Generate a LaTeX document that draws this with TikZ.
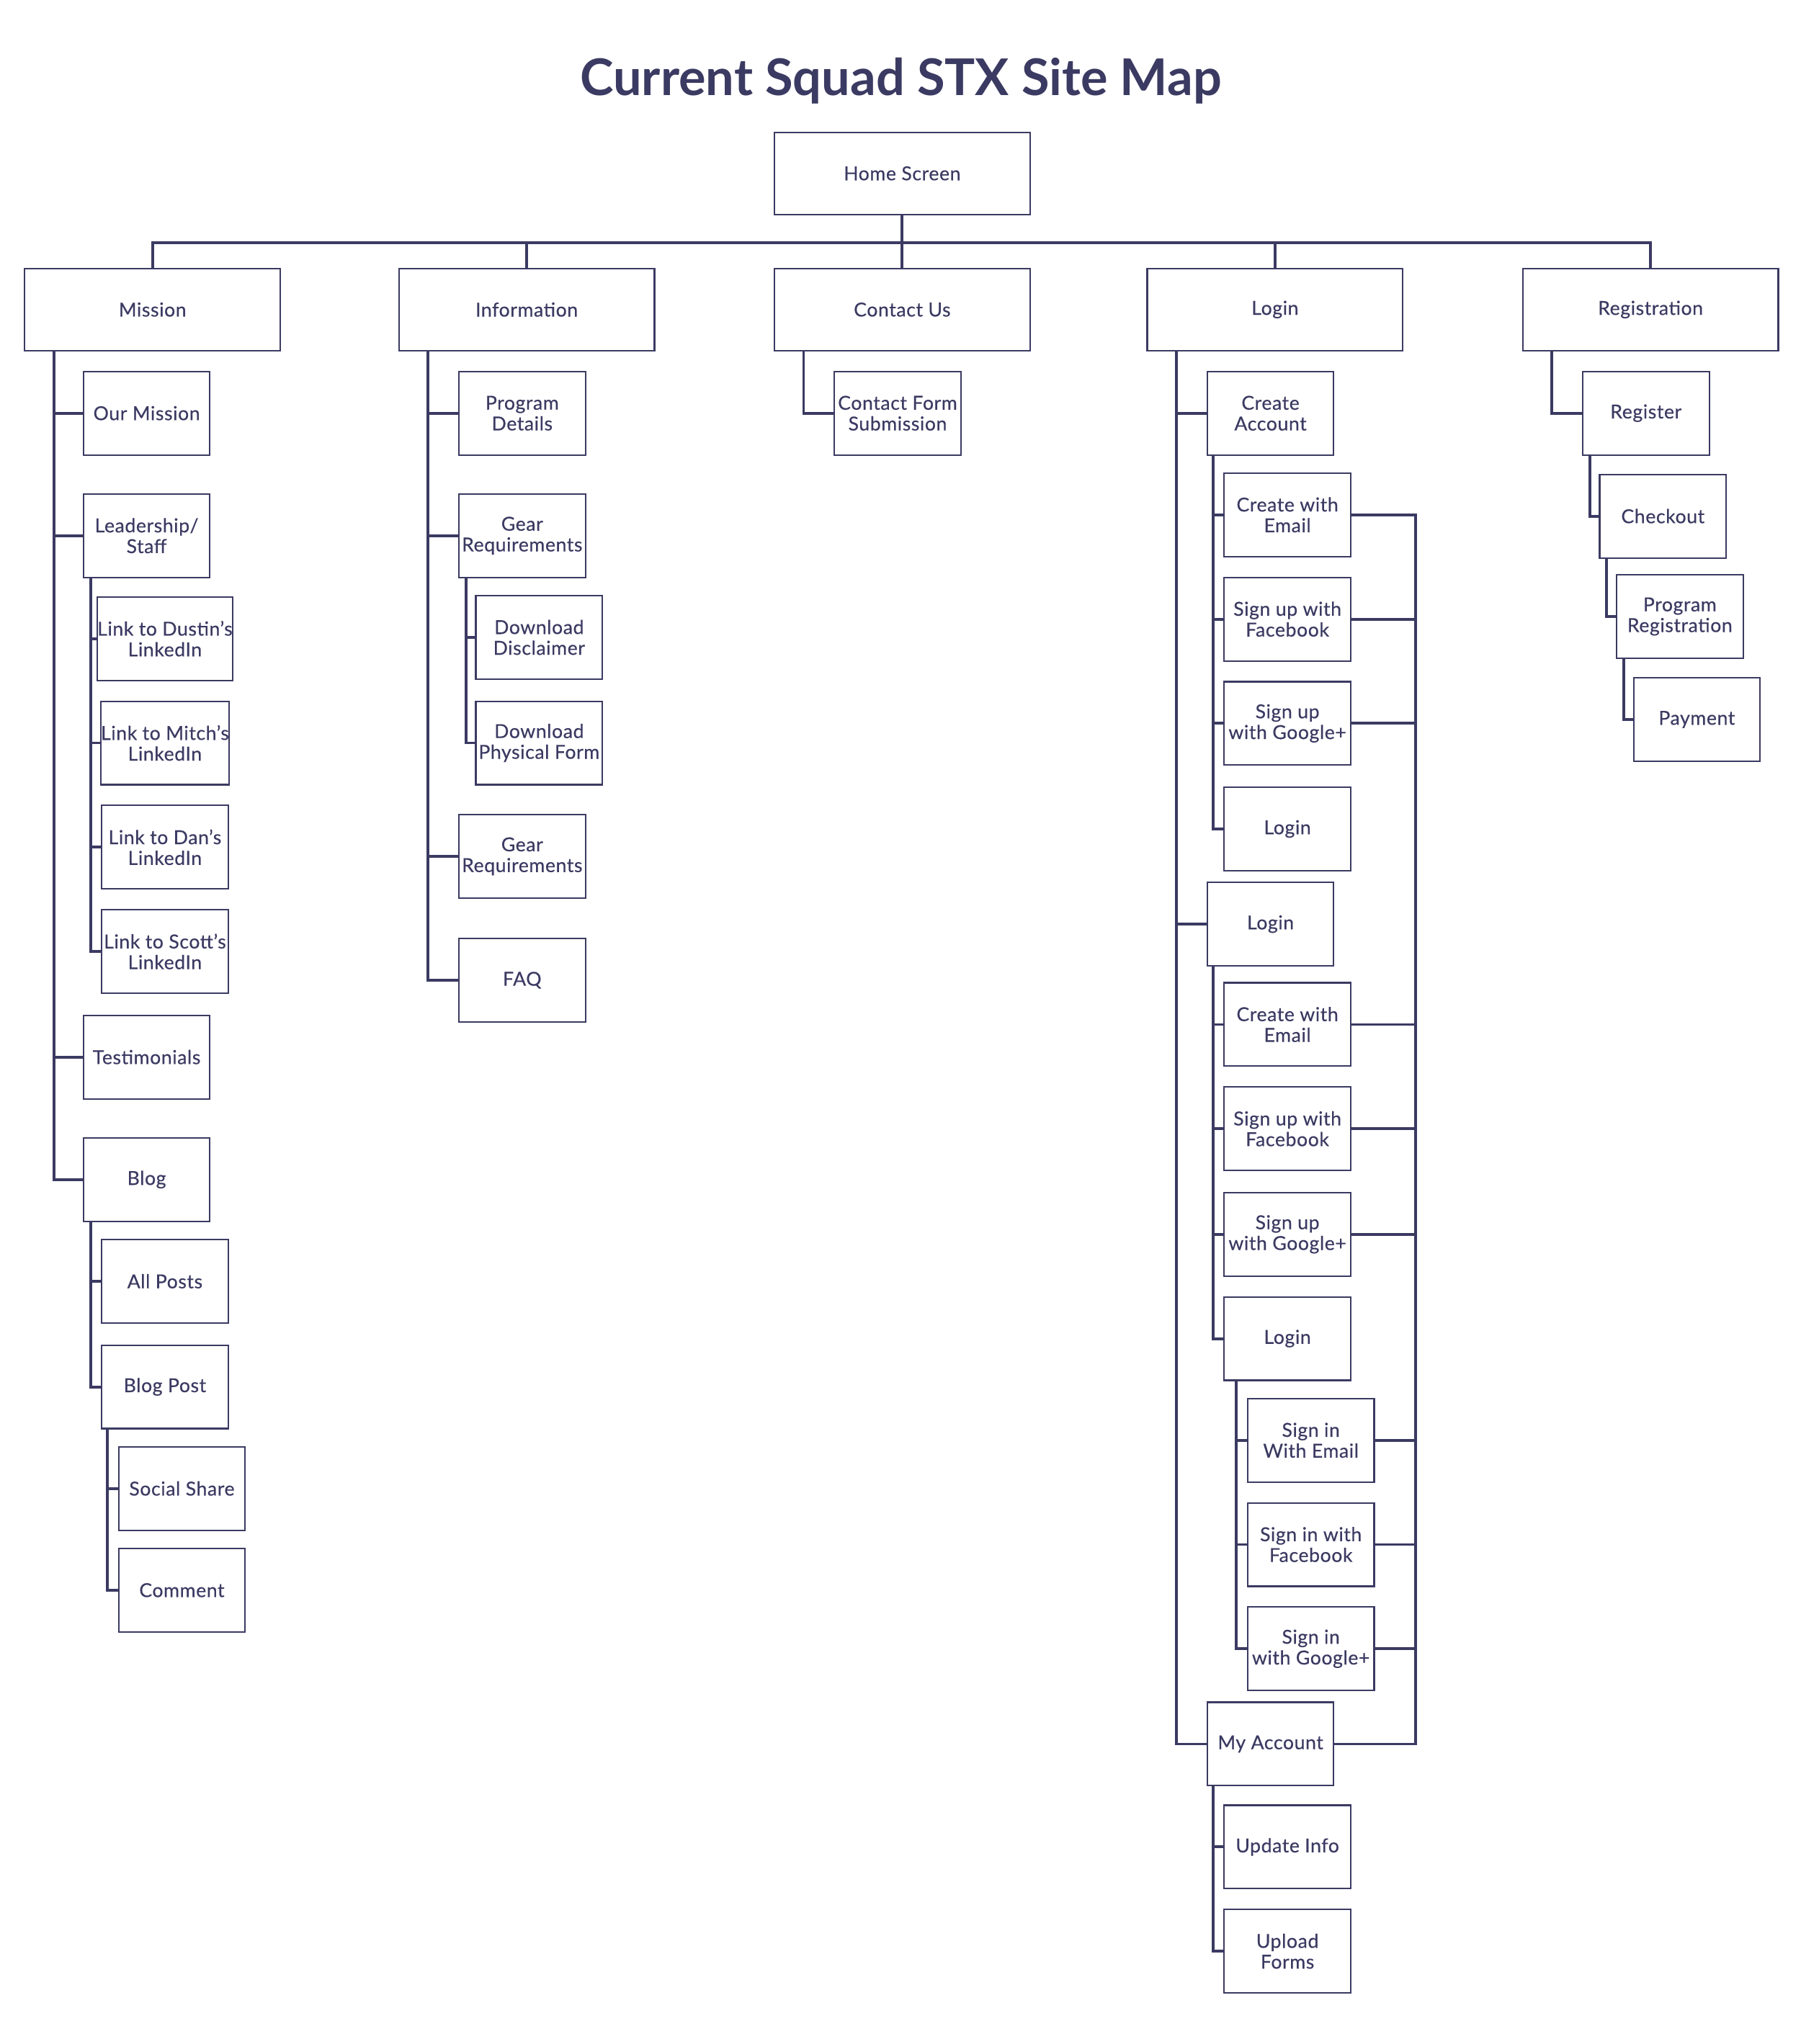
\documentclass[tikz,border=0pt]{standalone}
\usepackage{fontspec}
\setmainfont{Lato}
\newfontfamily\boxfont{Lato}[FakeBold=0.35,LetterSpace=2]
\definecolor{navy}{RGB}{59,58,98}
\begin{document}
\begin{tikzpicture}[x=0.018103cm,y=-0.018103cm,
  every node/.style={text=navy},
  box/.style={draw=navy,line width=0.6pt,inner sep=0pt,align=center,
    font=\boxfont\fontsize{7.6}{8.2}\selectfont},
  big/.style={box,minimum width=3.548cm,minimum height=1.1405cm},
  small/.style={box,minimum width=1.756cm,minimum height=1.1586cm},
  conn/.style={draw=navy,line width=1.1pt}]
\useasboundingbox (0,0) rectangle (1381,1568.2);
\node[font=\fontsize{20}{22}\selectfont\bfseries,anchor=base] (title) at (691,73) {Current Squad STX Site Map};
% level 0/1
\node[big] (home) at (692,133) {Home Screen};
\node[big] (mission) at (117,237.5) {Mission};
\node[big] (info) at (404,237.5) {Information};
\node[big] (contact) at (692,237.5) {Contact Us};
\node[big] (login) at (978,237.5) {Login};
\node[big] (reg) at (1266,237.5) {Registration};
% mission
\node[small] (ourmission) at (112.5,317) {Our Mission};
\node[small] (leadership) at (112.5,411) {Leadership/\\Staff};
\node[small] (dustin) at (126.5,490) {Link to Dustin’s\\LinkedIn};
\node[small] (mitch) at (126.5,570) {Link to Mitch’s\\LinkedIn};
\node[small] (dan) at (126.5,650) {Link to Dan’s\\LinkedIn};
\node[small] (scott) at (126.5,730) {Link to Scott’s\\LinkedIn};
\node[small] (testimonials) at (112.5,811) {Testimonials};
\node[small] (blog) at (112.5,905) {Blog};
\node[small] (allposts) at (126.5,983) {All Posts};
\node[small] (blogpost) at (126.5,1064) {Blog Post};
\node[small] (social) at (139.5,1142) {Social Share};
\node[small] (comment) at (139.5,1220) {Comment};
% information
\node[small] (program) at (400.5,317) {Program\\Details};
\node[small] (gear) at (400.5,411) {Gear\\Requirements};
\node[small] (disclaimer) at (413.5,489) {Download\\Disclaimer};
\node[small] (physical) at (413.5,570) {Download\\Physical Form};
\node[small] (gear2) at (400.5,657) {Gear\\Requirements};
\node[small] (faq) at (400.5,752) {FAQ};
% contact
\node[small] (contactform) at (688.5,317) {Contact Form\\Submission};
% login
\node[small] (createacct) at (974.5,317) {Create\\Account};
\node[small] (cwe1) at (987.5,395) {Create with\\Email};
\node[small] (sfb1) at (987.5,475) {Sign up with\\Facebook};
\node[small] (sg1) at (987.5,555) {Sign up\\with Google+};
\node[small] (login1) at (987.5,636) {Login};
\node[small] (login2) at (974.5,709) {Login};
\node[small] (cwe2) at (987.5,786) {Create with\\Email};
\node[small] (sfb2) at (987.5,866) {Sign up with\\Facebook};
\node[small] (sg2) at (987.5,947) {Sign up\\with Google+};
\node[small] (login3) at (987.5,1027) {Login};
\node[small] (siemail) at (1005.5,1105) {Sign in\\With Email};
\node[small] (sifb) at (1005.5,1185) {Sign in with\\Facebook};
\node[small] (sig) at (1005.5,1265) {Sign in\\with Google+};
\node[small] (myacct) at (974.5,1338) {My Account};
\node[small] (update) at (987.5,1417) {Update Info};
\node[small] (upload) at (987.5,1497) {Upload\\Forms};
% registration
\node[small] (register) at (1262.5,317) {Register};
\node[small] (checkout) at (1275.5,396) {Checkout};
\node[small] (progreg) at (1288.5,473) {Program\\Registration};
\node[small] (payment) at (1301.5,552) {Payment};
% top bus
\draw[conn] (home.south) -- ++(0,21) coordinate (bus);
\draw[conn] (mission.north) -- (mission.north |- bus) -- (reg.north |- bus) -- (reg.north);
\draw[conn] (info.north) -- (info.north |- bus);
\draw[conn] (contact.north) -- (contact.north |- bus);
\draw[conn] (login.north) -- (login.north |- bus);
% mission tree
\draw[conn] (mission.south west) ++(23,0) coordinate (mt) |- (blog.west);
\foreach \n in {ourmission,leadership,testimonials} \draw[conn] (\n.west) -- (\n.west -| mt);
\draw[conn] (leadership.south west) ++(6,0) coordinate (lt) |- (scott.west);
\foreach \n in {dustin,mitch,dan} \draw[conn] (\n.west) -- (\n.west -| lt);
\draw[conn] (blog.south west) ++(6,0) coordinate (bt) |- (blogpost.west);
\draw[conn] (allposts.west) -- (allposts.west -| bt);
\draw[conn] (blogpost.south west) ++(5,0) coordinate (bpt) |- (comment.west);
\draw[conn] (social.west) -- (social.west -| bpt);
% information tree
\draw[conn] (info.south west) ++(23,0) coordinate (it) |- (faq.west);
\foreach \n in {program,gear,gear2} \draw[conn] (\n.west) -- (\n.west -| it);
\draw[conn] (gear.south west) ++(6,0) coordinate (gt) |- (physical.west);
\draw[conn] (disclaimer.west) -- (disclaimer.west -| gt);
% contact
\draw[conn] (contact.south west) ++(23,0) |- (contactform.west);
% login tree
\draw[conn] (login.south west) ++(23,0) coordinate (lgt) |- (myacct.west);
\foreach \n in {createacct,login2} \draw[conn] (\n.west) -- (\n.west -| lgt);
\draw[conn] (createacct.south west) ++(5,0) coordinate (cat) |- (login1.west);
\foreach \n in {cwe1,sfb1,sg1} \draw[conn] (\n.west) -- (\n.west -| cat);
\draw[conn] (login2.south west) ++(5,0) coordinate (l2t) |- (login3.west);
\foreach \n in {cwe2,sfb2,sg2} \draw[conn] (\n.west) -- (\n.west -| l2t);
\draw[conn] (login3.south west) ++(10,0) coordinate (l3t) |- (sig.west);
\foreach \n in {siemail,sifb} \draw[conn] (\n.west) -- (\n.west -| l3t);
\draw[conn] (myacct.south west) ++(5,0) coordinate (mat) |- (upload.west);
\draw[conn] (update.west) -- (update.west -| mat);
% right bus
\draw[conn] (cwe1.east) -- ++(49,0) coordinate (rb) |- (myacct.east);
\foreach \n in {sfb1,sg1,cwe2,sfb2,sg2,siemail,sifb,sig} \draw[conn] (\n.east) -- (\n.east -| rb);
% registration tree
\draw[conn] (reg.south west) ++(23,0) |- (register.west);
\draw[conn] (register.south west) ++(6,0) |- (checkout.west);
\draw[conn] (checkout.south west) ++(6,0) |- (progreg.west);
\draw[conn] (progreg.south west) ++(6,0) |- (payment.west);
\end{tikzpicture}
\end{document}
